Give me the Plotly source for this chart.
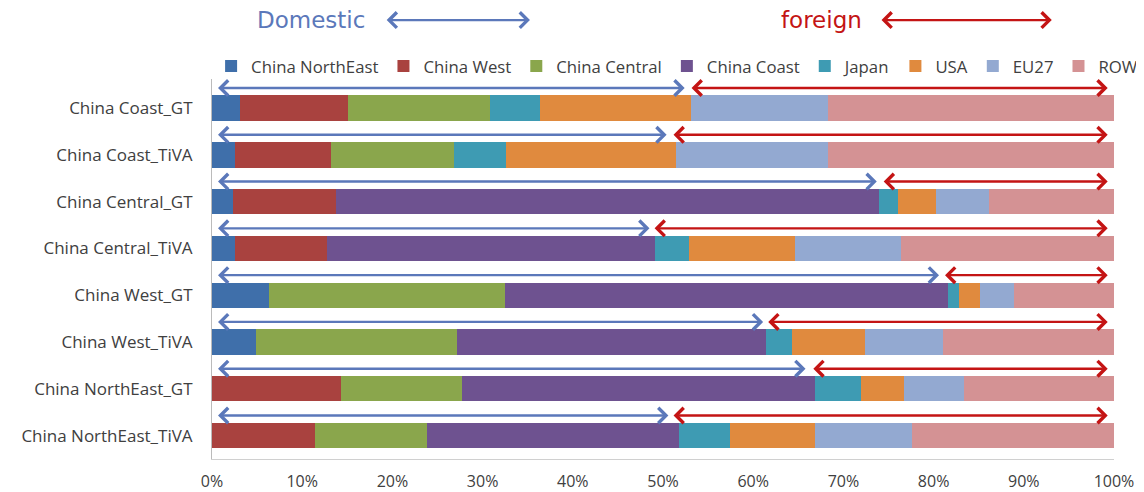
import plotly.graph_objects as go

categories = ["China Coast_GT", "China Coast_TiVA", "China Central_GT", "China Central_TiVA",
              "China West_GT", "China West_TiVA", "China NorthEast_GT", "China NorthEast_TiVA"]

series_names = ["China NorthEast", "China West", "China Central", "China Coast",
                "Japan", "USA", "EU27", "ROW"]

china_northeast = [3.1, 2.6, 2.3, 2.5, 6.3, 4.9, 0.0, 0.0]
china_west      = [12.0, 10.6, 11.4, 10.3, 0.0, 0.0, 14.3, 11.4]
china_central   = [15.7, 13.6, 0.0, 0.0, 26.2, 22.3, 13.4, 12.4]
china_coast     = [0.0, 0.0, 60.3, 36.3, 49.1, 34.2, 39.2, 28.0]
japan           = [5.6, 5.8, 2.0, 3.8, 1.2, 2.9, 5.1, 5.6]
usa             = [16.7, 18.8, 4.3, 11.7, 2.3, 8.1, 4.7, 9.5]
eu27            = [15.2, 16.9, 5.8, 11.8, 3.8, 8.6, 6.7, 10.7]
row             = [31.7, 31.7, 13.9, 23.6, 11.1, 19.0, 16.6, 22.4]

# arrow extents (percent)
arrow_left = [0.5] * 8
domestic_arrow_end = [52.4, 50.4, 73.7, 48.5, 80.6, 61.1, 65.8, 50.6]
foreign_arrow_start = [53.0, 51.0, 74.3, 48.9, 81.1, 61.5, 66.5, 51.0]
arrow_right = [99.3] * 8

tick_vals = [0, 10, 20, 30, 40, 50, 60, 70, 80, 90, 100]
tick_labels = ["0%", "10%", "20%", "30%", "40%", "50%", "60%", "70%", "80%", "90%", "100%"]

colors = ["#3F6FAA", "#A9423F", "#8AA64C", "#6E5290", "#3E9BB3", "#E08A3E", "#93A9D1", "#D49294"]
values = [china_northeast, china_west, china_central, china_coast, japan, usa, eu27, row]

FONT = "Open Sans"
HEAD_FONT = "DejaVu Sans"
BLUE = "#5B78BA"
RED = "#C41414"

fig = go.Figure()
for name, vals, col in zip(series_names, values, colors):
    fig.add_trace(go.Bar(y=categories, x=vals, name=name, orientation="h",
                         marker=dict(color=col, line=dict(width=0))))

arrow_style = dict(text="", showarrow=True, arrowhead=4, startarrowhead=4, arrowside="end+start",
                   arrowsize=1.25, startarrowsize=1.25, arrowwidth=2.4)

annotations = []
for i, cat in enumerate(categories):
    yy = i - 0.43
    annotations.append(dict(x=domestic_arrow_end[i], y=yy, ax=arrow_left[i], ay=yy,
                            xref="x", yref="y", axref="x", ayref="y", arrowcolor=BLUE, **arrow_style))
    annotations.append(dict(x=arrow_right[i], y=yy, ax=foreign_arrow_start[i], ay=yy,
                            xref="x", yref="y", axref="x", ayref="y", arrowcolor=RED, **arrow_style))

# header labels
annotations.append(dict(x=0.110, y=1.155, xref="x domain", yref="y domain", text="Domestic",
                        xanchor="center", yanchor="middle", showarrow=False,
                        font=dict(family=HEAD_FONT, size=23, color=BLUE)))
annotations.append(dict(x=0.3525, y=1.155, ax=0.192, ay=1.155, xref="x domain", yref="y domain",
                        axref="x domain", ayref="y domain", arrowcolor=BLUE, **arrow_style))
annotations.append(dict(x=0.676, y=1.155, xref="x domain", yref="y domain", text="foreign",
                        xanchor="center", yanchor="middle", showarrow=False,
                        font=dict(family=HEAD_FONT, size=23, color=RED)))
annotations.append(dict(x=0.931, y=1.155, ax=0.7406, ay=1.155, xref="x domain", yref="y domain",
                        axref="x domain", ayref="y domain", arrowcolor=RED, **arrow_style))

fig.update_layout(
    template="none",
    width=1144, height=492,
    margin=dict(l=204, r=38, t=71, b=41, autoexpand=False),
    barmode="stack", bargap=0.46,
    paper_bgcolor="white", plot_bgcolor="white",
    font=dict(family=FONT, size=16, color="#404040"),
    showlegend=True,
    legend=dict(orientation="h", x=-0.001, xanchor="left", y=1.034, yanchor="middle",
                font=dict(family=FONT, size=16.75, color="#404040"),
                traceorder="normal", itemwidth=30, bgcolor="rgba(0,0,0,0)"),
    xaxis=dict(range=[0, 100], tickmode="array", tickvals=tick_vals, ticktext=tick_labels,
               showgrid=False, zeroline=False,
               showline=True, linecolor="#D0D0D0", linewidth=1, ticks="", automargin=False,
               ticklabelstandoff=8,
               tickfont=dict(family=FONT, size=16, color="#404040")),
    yaxis=dict(autorange="reversed", showgrid=False, zeroline=False, showline=True,
               linecolor="#BBBBBB", linewidth=1, ticks="", automargin=False, ticklabelstandoff=15,
               tickfont=dict(family=FONT, size=17, color="#404040")),
    annotations=annotations,
)

fig.write_html("out.html")
